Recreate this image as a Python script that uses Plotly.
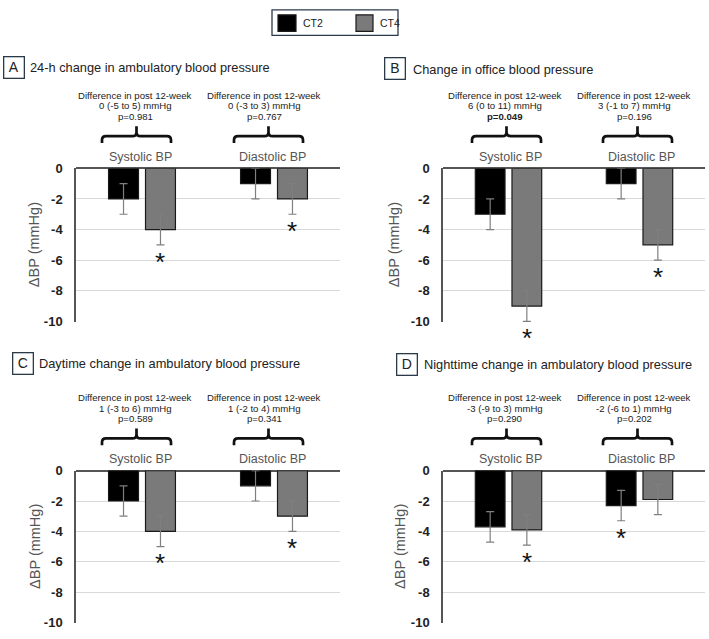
import plotly.graph_objects as go

# ---------------- data ----------------
categories = ["Systolic BP", "Diastolic BP"]
series_names = ["CT2", "CT4"]
panel_letters = ["A", "B", "C", "D"]
panel_titles = [
    "24-h change in ambulatory blood pressure",
    "Change in office blood pressure",
    "Daytime change in ambulatory blood pressure",
    "Nighttime change in ambulatory blood pressure",
]

a_ct2 = [-2, -1]
a_ct4 = [-4, -2]
b_ct2 = [-3, -1]
b_ct4 = [-9, -5]
c_ct2 = [-2, -1]
c_ct4 = [-4, -3]
d_ct2 = [-3.7, -2.3]
d_ct4 = [-3.9, -1.9]

a_ct2_err = [1, 1]
a_ct4_err = [1, 1]
b_ct2_err = [1, 1]
b_ct4_err = [1, 1]
c_ct2_err = [1, 1]
c_ct4_err = [1, 1]
d_ct2_err = [1, 1]
d_ct4_err = [1, 1]

diff_header = "Difference in post 12-week"
a_diff = ["0 (-5 to 5) mmHg", "0 (-3 to 3) mmHg"]
a_p = ["p=0.981", "p=0.767"]
b_diff = ["6 (0 to 11) mmHg", "3 (-1 to 7) mmHg"]
b_p = ["<b>p=0.049</b>", "p=0.196"]
c_diff = ["1 (-3 to 6) mmHg", "1 (-2 to 4) mmHg"]
c_p = ["p=0.589", "p=0.341"]
d_diff = ["-3 (-9 to 3) mmHg", "-2 (-6 to 1) mmHg"]
d_p = ["p=0.290", "p=0.202"]

# significance stars: (series index, category index)
a_stars = [(1, 0), (1, 1)]
b_stars = [(1, 0), (1, 1)]
c_stars = [(1, 0), (1, 1)]
d_stars = [(1, 0), (0, 1)]

y_ticks = [0, -2, -4, -6, -8, -10]
y_label = "ΔBP (mmHg)"

panels = [
    (a_ct2, a_ct4, a_ct2_err, a_ct4_err, a_diff, a_p, a_stars),
    (b_ct2, b_ct4, b_ct2_err, b_ct4_err, b_diff, b_p, b_stars),
    (c_ct2, c_ct4, c_ct2_err, c_ct4_err, c_diff, c_p, c_stars),
    (d_ct2, d_ct4, d_ct2_err, d_ct4_err, d_diff, d_p, d_stars),
]

# ---------------- layout constants ----------------
W, H = 709, 639
FONT = "Liberation Sans, Arial, sans-serif"
colors = ["#000000", "#7a7a7a"]
BARGAP, GROUPGAP = 0.44, 0.19
OFFSET = (1 - BARGAP) / 4
YMIN, YMAX = min(y_ticks) - 0.04, max(y_ticks)

plot_boxes = [(76, 340, 165, 322), (443, 705, 165, 322), (76, 340, 474, 630), (443, 705, 474, 630)]
title_boxes = [(14, 61.5), (395, 63), (23.5, 364), (406.5, 365)]
title_text_x = [28, 411, 37, 422]
ylabel_x = [34, 394, 35, 400]
text_dx = [(-7, -10), (-4, -5.5), (-7, -10), (-4, -5.5)]
brace_dx = [-5.5, -2, -5.5, -2]
label_dx = [-2, 2, -2, 2]


def px(x):
    return x / W


def py(y):
    return 1 - y / H


fig = go.Figure()
annotations = []
shapes = []
layout_axes = {}

for i, (ct2, ct4, e2, e4, diffs, ps, stars) in enumerate(panels):
    n = "" if i == 0 else str(i + 1)
    x0, x1, yt, yb = plot_boxes[i]
    xs = list(range(len(categories)))
    vals = [ct2, ct4]
    errs = [e2, e4]
    for s in range(2):
        fig.add_trace(go.Bar(
            x=xs, y=vals[s], name=series_names[s], xaxis="x" + n, yaxis="y" + n,
            marker=dict(color=colors[s], line=dict(color="#1a1a1a", width=1.2)),
            error_y=dict(type="data", array=errs[s], color="#7f7f7f", thickness=1.2, width=4),
            showlegend=False, offsetgroup=str(s),
        ))
    layout_axes["xaxis" + n] = dict(domain=[px(x0), px(x1)], range=[-0.5, len(categories) - 0.5],
                                    visible=False, anchor="y" + n, fixedrange=True)
    layout_axes["yaxis" + n] = dict(domain=[py(yb), py(yt)], range=[YMIN, YMAX], anchor="x" + n,
                                    tickvals=y_ticks, ticktext=[str(t) for t in y_ticks],
                                    tickfont=dict(family=FONT, size=13, color="#222", weight="bold"),
                                    ticklabelstandoff=9, showgrid=True, gridcolor="#d9d9d9", gridwidth=1,
                                    zeroline=True, zerolinecolor="#555", zerolinewidth=1.5,
                                    showline=True, linecolor="#555", linewidth=1.5, fixedrange=True)

    def xpix(xv):
        return x0 + (xv + 0.5) / len(categories) * (x1 - x0)

    def ypix(yv):
        return yt + (YMAX - yv) / (YMAX - YMIN) * (yb - yt)

    # panel title
    bx, by = title_boxes[i]
    annotations.append(dict(text=panel_letters[i], x=px(bx), y=py(by), xref="paper", yref="paper",
                            showarrow=False, xanchor="center", yanchor="middle",
                            width=19, height=20, borderpad=0, bordercolor="#2b3a4a", borderwidth=1.3,
                            font=dict(family=FONT, size=14, color="#222")))
    annotations.append(dict(text=panel_titles[i], x=px(title_text_x[i]), y=py(by + 0.5), xref="paper",
                            yref="paper", showarrow=False, xanchor="left", yanchor="middle",
                            font=dict(family=FONT, size=12.8, color="#222")))
    # y label
    annotations.append(dict(text=y_label, x=px(ylabel_x[i]), y=py((yt + yb) / 2), xref="paper",
                            yref="paper", showarrow=False, textangle=-90, xanchor="center",
                            yanchor="middle", font=dict(family=FONT, size=14.5, color="#555")))

    for c, cat in enumerate(categories):
        gx = xpix(c)
        # category label
        annotations.append(dict(text=cat, x=px(gx + label_dx[i]), y=py(yt - 12), xref="paper", yref="paper",
                                showarrow=False, xanchor="center", yanchor="middle",
                                font=dict(family=FONT, size=12.5, color="#555")))
        # difference text
        for k, line in enumerate([diff_header, diffs[c], ps[c]]):
            annotations.append(dict(text=line, x=px(gx + text_dx[i][c]), y=py(yt - 74.5 + k * 10.7),
                                    xref="paper", yref="paper", showarrow=False, xanchor="center",
                                    yanchor="middle", font=dict(family=FONT, size=9.6, color="#222")))
        # brace
        bc = gx + brace_dx[i]
        hw, r = 34.5, 4
        ytip, ymid, yend = yt - 43, yt - 33, yt - 26
        pts = [
            ("M", (bc - hw, yend)), ("L", (bc - hw, ymid + r)),
            ("Q", (bc - hw, ymid), (bc - hw + r, ymid)), ("L", (bc - r, ymid)),
            ("Q", (bc, ymid), (bc, ymid - r)), ("L", (bc, ytip)),
            ("M", (bc, ymid - r)), ("Q", (bc, ymid), (bc + r, ymid)),
            ("L", (bc + hw - r, ymid)), ("Q", (bc + hw, ymid), (bc + hw, ymid + r)),
            ("L", (bc + hw, yend)),
        ]
        path = ""
        for seg in pts:
            path += seg[0] + " " + " ".join(f"{px(p[0]):.5f},{py(p[1]):.5f}" for p in seg[1:]) + " "
        shapes.append(dict(type="path", path=path.strip(), xref="paper", yref="paper",
                           line=dict(color="#111", width=2.7)))

    # significance stars
    for (s, c) in stars:
        xv = c + (-OFFSET if s == 0 else OFFSET)
        yv = vals[s][c] - errs[s][c]
        annotations.append(dict(text="*", x=px(xpix(xv)), y=py(ypix(yv) + 12), xref="paper", yref="paper",
                                showarrow=False, xanchor="center", yanchor="middle", yshift=-5,
                                font=dict(family=FONT, size=26, color="#111")))

# custom legend
shapes.append(dict(type="rect", xref="paper", yref="paper", x0=px(272), x1=px(398), y0=py(29), y1=py(3),
                   line=dict(color="#2b3a4a", width=1.3)))
legend_sw = [(278, 296), (356, 373)]
for s, name in enumerate(series_names):
    a, b = legend_sw[s]
    shapes.append(dict(type="rect", xref="paper", yref="paper", x0=px(a), x1=px(b), y0=py(25), y1=py(8),
                       fillcolor=colors[s], line=dict(color="#1a1a1a", width=1.2)))
    annotations.append(dict(text=name, x=px(b + 5), y=py(16.5), xref="paper", yref="paper", showarrow=False,
                            xanchor="left", yanchor="middle", font=dict(family=FONT, size=10.5, color="#222")))

fig.update_layout(
    width=W, height=H, margin=dict(l=0, r=0, t=0, b=0),
    paper_bgcolor="white", plot_bgcolor="white",
    barmode="group", bargap=BARGAP, bargroupgap=GROUPGAP,
    annotations=annotations, shapes=shapes, showlegend=False,
    font=dict(family=FONT),
    **layout_axes,
)

fig.write_html("out.html")
